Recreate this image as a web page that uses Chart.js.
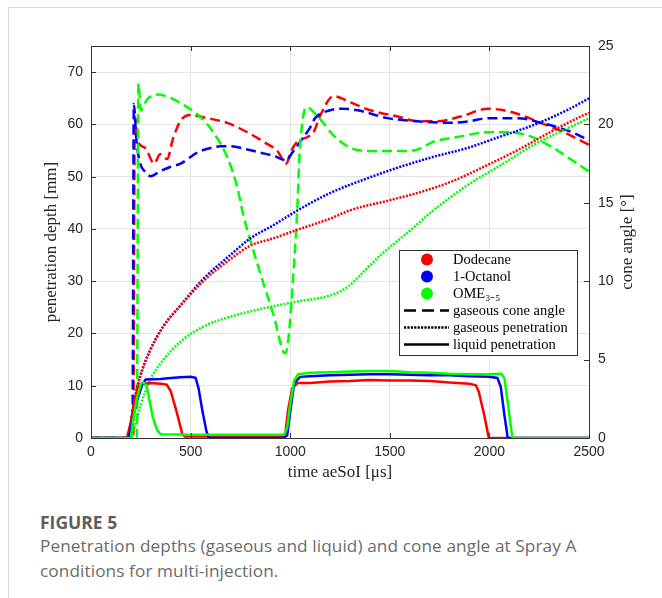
<!DOCTYPE html>
<html><head><meta charset="utf-8">
<script src="https://cdn.jsdelivr.net/npm/chart.js@4.4.1/dist/chart.umd.min.js"></script>
<style>
html,body{margin:0;padding:0;background:#fff;width:662px;height:598px;overflow:hidden;}
#card{position:absolute;left:8px;top:7px;right:-2px;bottom:-2px;border-top:1px solid #dcdcdc;border-left:1px solid #dcdcdc;}
#c{position:absolute;left:0;top:0;}
.fig{position:absolute;left:40px;top:510px;font-family:"Open Sans";font-weight:700;font-size:17.5px;line-height:24px;color:#5e5e5e;}
.cap{position:absolute;left:40px;top:533px;font-family:"Open Sans";font-size:17.2px;line-height:25px;color:#6b6b6b;letter-spacing:0.1px;}
</style></head>
<body>
<div id="card"></div>
<canvas id="c" width="662" height="500"></canvas>
<div class="fig">FIGURE 5</div>
<div class="cap">Penetration depths (gaseous and liquid) and cone angle at Spray A<br>conditions for multi-injection.</div>
<script>
// ---- ticks / labels ----
const xTicks = [0, 500, 1000, 1500, 2000, 2500];
const leftTicks = [0, 10, 20, 30, 40, 50, 60, 70];
const rightTicks = [0, 5, 10, 15, 20, 25];
const fuels = ['Dodecane', '1-Octanol', 'OME\u2083\u208B\u2085'];
const styleNames = ['gaseous cone angle', 'gaseous penetration', 'liquid penetration'];
const xTitle = 'time aeSoI [\u03BCs]';
const yLeftTitle = 'penetration depth [mm]';
const yRightTitle = 'cone angle [\u00B0]';

// ---- gaseous cone angle [deg] ----
const tConeDod = [0,212,220,236,272,317,347,382,412,448,498,583,684,785,865,936,981,1001,1036,1087,1117,1152,1217,1303,1403,1539,1640,1740,1856,1992,2072,2158,2258,2374,2484,2500];
const coneDod  = [0,0,20.5,18.9,18.5,17.5,18.1,17.8,19.1,20.2,20.6,20.4,20.1,19.5,18.9,18.3,17.5,18.2,18.9,19.2,19.5,20.6,21.8,21.4,20.9,20.5,20.2,20.2,20.5,21.0,20.9,20.6,20.1,19.5,18.8,18.7];
const tConeOct = [0,208,215,228,245,270,300,345,400,450,533,600,650,700,785,850,915,985,1000,1050,1100,1125,1200,1260,1338,1489,1640,1806,1900,1992,2143,2258,2394,2500];
const coneOct  = [0,0,21.3,19.0,17.6,17.0,16.7,17.0,17.3,17.5,18.2,18.5,18.6,18.6,18.4,18.2,18.0,17.7,18.0,18.9,19.8,20.4,20.9,21.0,20.9,20.4,20.2,20.1,20.2,20.4,20.4,20.1,19.6,19.0];
const tConeOme = [0,230,238,250,282,337,397,483,548,614,684,734,765,850,915,975,990,1016,1036,1046,1060,1080,1152,1217,1303,1388,1554,1640,1720,1840,1992,2092,2193,2308,2394,2500];
const coneOme  = [0,0,22.6,20.9,21.6,21.9,21.7,21.1,20.5,19.5,17.9,16.0,14.2,10.5,7.9,5.4,6.2,10.5,14.7,17.9,20.0,21.1,20.3,19.3,18.5,18.3,18.3,18.4,18.9,19.2,19.5,19.5,19.3,18.6,17.9,17.0];

// ---- gaseous penetration [mm] ----
const tGasDod = [0,188,200,220,246,297,362,448,563,699,800,915,1026,1202,1303,1469,1640,1806,1972,2143,2309,2475,2500];
const gasDod  = [0,0,3.0,7.5,11.7,16.8,21.3,25.3,30.0,34.2,36.8,38.2,39.7,42.0,43.6,45.2,46.9,49.0,51.9,55.1,58.6,61.8,62.2];
const tGasOct = [0,188,200,220,246,297,362,448,563,699,800,915,1026,1100,1202,1388,1554,1720,1891,2057,2223,2394,2500];
const gasOct  = [0,0,3.0,7.5,11.7,16.8,21.3,25.3,30.4,35.0,38.2,40.7,43.3,44.9,46.9,49.7,51.9,53.8,55.5,57.7,59.9,62.8,65.0];
const tGasOme = [0,205,211,246,297,362,448,563,699,865,1036,1202,1288,1368,1454,1605,1720,1891,2057,2223,2394,2500];
const gasOme  = [0,0,0.9,5.9,11.1,14.9,18.4,21.3,23.2,24.8,26.1,27.3,28.9,31.8,35.0,39.8,43.6,48.4,52.2,56.1,59.3,61.2];

// ---- liquid penetration [mm] ----
const tLiqDod = [0,180,200,215,236,260,300,350,380,400,430,458,470,600,800,965,976,990,1010,1036,1100,1200,1300,1400,1500,1600,1700,1800,1900,1932,1947,1975,1997,2500];
const liqDod  = [0,0,3.0,6.5,9.8,10.4,10.5,10.4,10.2,9.0,5.0,0.8,0.3,0.3,0.3,0.3,1.0,5.5,9.5,10.5,10.5,10.8,10.9,11.1,11.0,11.0,10.9,10.6,10.4,10.1,8.8,4.2,0,0];
const tLiqOct = [0,190,200,230,260,275,350,400,450,500,525,540,560,580,592,965,985,1000,1020,1050,1100,1200,1300,1400,1500,1600,1700,1800,1900,2000,2040,2057,2075,2092,2500];
const liqOct  = [0,0,2.0,7.0,10.5,11.2,11.3,11.5,11.6,11.7,11.5,9.5,5.0,1.2,0,0,0.5,5.0,10.5,11.7,11.8,12.0,12.1,12.2,12.2,12.1,12.0,12.0,11.8,11.7,11.5,9.8,4.5,0,0];
const tLiqOme = [0,200,211,230,250,262,280,295,310,332,350,500,800,970,985,1000,1020,1040,1100,1200,1300,1400,1500,1600,1700,1800,1900,2000,2060,2075,2095,2115,2500];
const liqOme  = [0,0,3.4,7.5,10.3,10.7,9.8,7.0,4.0,1.5,0.7,0.6,0.6,0.6,2.0,6.5,11.0,12.2,12.5,12.6,12.7,12.8,12.8,12.6,12.5,12.3,12.2,12.2,12.3,11.5,6.0,0,0];

const colors = ['#ff0000', '#0000ff', '#00ff00'];
const DASH = [10, 5], DOT = [2, 1.4];

function pts(t, v) { return t.map((x, i) => ({ x: x, y: v[i] })); }
function line(t, v, color, dash, axis, mono) {
  return { data: pts(t, v), borderColor: color, backgroundColor: color, borderWidth: 2.5,
    borderDash: dash, yAxisID: axis, pointRadius: 0, fill: false,
    cubicInterpolationMode: mono ? 'monotone' : 'default', tension: 0, borderCapStyle: 'butt' };
}

const datasets = [
  line(tLiqOme, liqOme, colors[2], [], 'yL', false),
  line(tLiqOct, liqOct, colors[1], [], 'yL', false),
  line(tLiqDod, liqDod, colors[0], [], 'yL', false),
  line(tGasOme, gasOme, colors[2], DOT, 'yL', true),
  line(tGasDod, gasDod, colors[0], DOT, 'yL', true),
  line(tGasOct, gasOct, colors[1], DOT, 'yL', true),
  line(tConeOme, coneOme, colors[2], DASH, 'yR', true),
  line(tConeOct, coneOct, colors[1], DASH, 'yR', true),
  line(tConeDod, coneDod, colors[0], DASH, 'yR', true)
];

const AXC = '#333333';
const overlay = {
  id: 'overlay',
  afterDatasetsDraw(chart) {
    const ctx = chart.ctx, a = chart.chartArea;
    const sx = chart.scales.x, sl = chart.scales.yL, sr = chart.scales.yR;
    ctx.save();
    // frame
    ctx.strokeStyle = AXC; ctx.lineWidth = 1; ctx.setLineDash([]);
    ctx.strokeRect(Math.round(a.left) + 0.5, Math.round(a.top) + 0.5, Math.round(a.right - a.left), Math.round(a.bottom - a.top));
    // inward ticks
    const TL = 5;
    ctx.beginPath();
    xTicks.forEach(v => { const p = Math.round(sx.getPixelForValue(v)) + 0.5;
      ctx.moveTo(p, a.bottom); ctx.lineTo(p, a.bottom - TL); ctx.moveTo(p, a.top); ctx.lineTo(p, a.top + TL); });
    leftTicks.forEach(v => { const p = Math.round(sl.getPixelForValue(v)) + 0.5;
      ctx.moveTo(a.left, p); ctx.lineTo(a.left + TL, p); });
    rightTicks.forEach(v => { const p = Math.round(sr.getPixelForValue(v)) + 0.5;
      ctx.moveTo(a.right, p); ctx.lineTo(a.right - TL, p); });
    ctx.stroke();

    // legend
    const w = 178, h = 105;
    const x0 = Math.round(a.right - 12 - w), y0 = 250;
    ctx.fillStyle = '#ffffff'; ctx.fillRect(x0, y0, w, h);
    ctx.strokeStyle = AXC; ctx.strokeRect(x0 + 0.5, y0 + 0.5, w, h);
    ctx.font = '14.5px "Liberation Serif"'; ctx.textBaseline = 'middle'; ctx.textAlign = 'left';
    const rowY = i => y0 + 9.5 + i * 17;
    const tx = x0 + 54;
    fuels.forEach((name, i) => {
      ctx.fillStyle = colors[i];
      ctx.beginPath(); ctx.arc(x0 + 28, rowY(i), 6, 0, Math.PI * 2); ctx.fill();
      ctx.fillStyle = '#000'; ctx.fillText(name, tx, rowY(i) + 1);
    });
    const dashes = [[12, 6], [2.2, 1.2], []];
    styleNames.forEach((name, j) => {
      const y = rowY(3 + j);
      ctx.strokeStyle = '#000'; ctx.lineWidth = 2.5; ctx.setLineDash(dashes[j]);
      ctx.beginPath(); ctx.moveTo(x0 + 5, y); ctx.lineTo(x0 + 50, y); ctx.stroke();
      ctx.setLineDash([]);
      ctx.fillStyle = '#000'; ctx.fillText(name, tx, y + 1);
    });

    // axis titles
    ctx.fillStyle = '#262626'; ctx.font = '17px "Liberation Serif"';
    ctx.textAlign = 'center'; ctx.textBaseline = 'middle';
    ctx.fillText(xTitle, (a.left + a.right) / 2, a.bottom + 35);
    const cy = (a.top + a.bottom) / 2;
    ctx.save(); ctx.translate(a.left - 39, cy); ctx.rotate(-Math.PI / 2); ctx.fillText(yLeftTitle, 0, 0); ctx.restore();
    ctx.save(); ctx.translate(a.right + 39, cy); ctx.rotate(-Math.PI / 2); ctx.fillText(yRightTitle, 0, 0); ctx.restore();
    ctx.restore();
  }
};

const tickFont = { family: '"Liberation Sans"', size: 14 };
const GRID = '#e4e4e4';
const plain = v => String(v);
new Chart(document.getElementById('c'), {
  type: 'line',
  data: { datasets: datasets },
  options: {
    responsive: false, animation: false, parsing: true,
    layout: { padding: { top: 46, left: 0, right: 0, bottom: 0 } },
    plugins: { legend: { display: false }, tooltip: { enabled: false } },
    scales: {
      x: { type: 'linear', position: 'bottom', min: 0, max: 2500,
        afterBuildTicks: s => { s.ticks = xTicks.map(v => ({ value: v })); },
        afterFit: s => { s.height = 62; },
        ticks: { font: tickFont, color: '#262626', padding: 6, maxRotation: 0, autoSkip: false, callback: plain },
        grid: { color: GRID, drawTicks: false }, border: { display: false } },
      yL: { type: 'linear', position: 'left', min: 0, max: 75,
        afterBuildTicks: s => { s.ticks = leftTicks.map(v => ({ value: v })); },
        afterFit: s => { s.width = 91; },
        ticks: { font: tickFont, color: '#262626', padding: 8, callback: plain },
        grid: { color: GRID, drawTicks: false }, border: { display: false } },
      yR: { type: 'linear', position: 'right', min: 0, max: 25,
        afterBuildTicks: s => { s.ticks = rightTicks.map(v => ({ value: v })); },
        afterFit: s => { s.width = 73; },
        ticks: { font: tickFont, color: '#262626', padding: 9, callback: plain },
        grid: { drawOnChartArea: false, drawTicks: false }, border: { display: false } }
    }
  },
  plugins: [overlay]
});
</script>
</body></html>
